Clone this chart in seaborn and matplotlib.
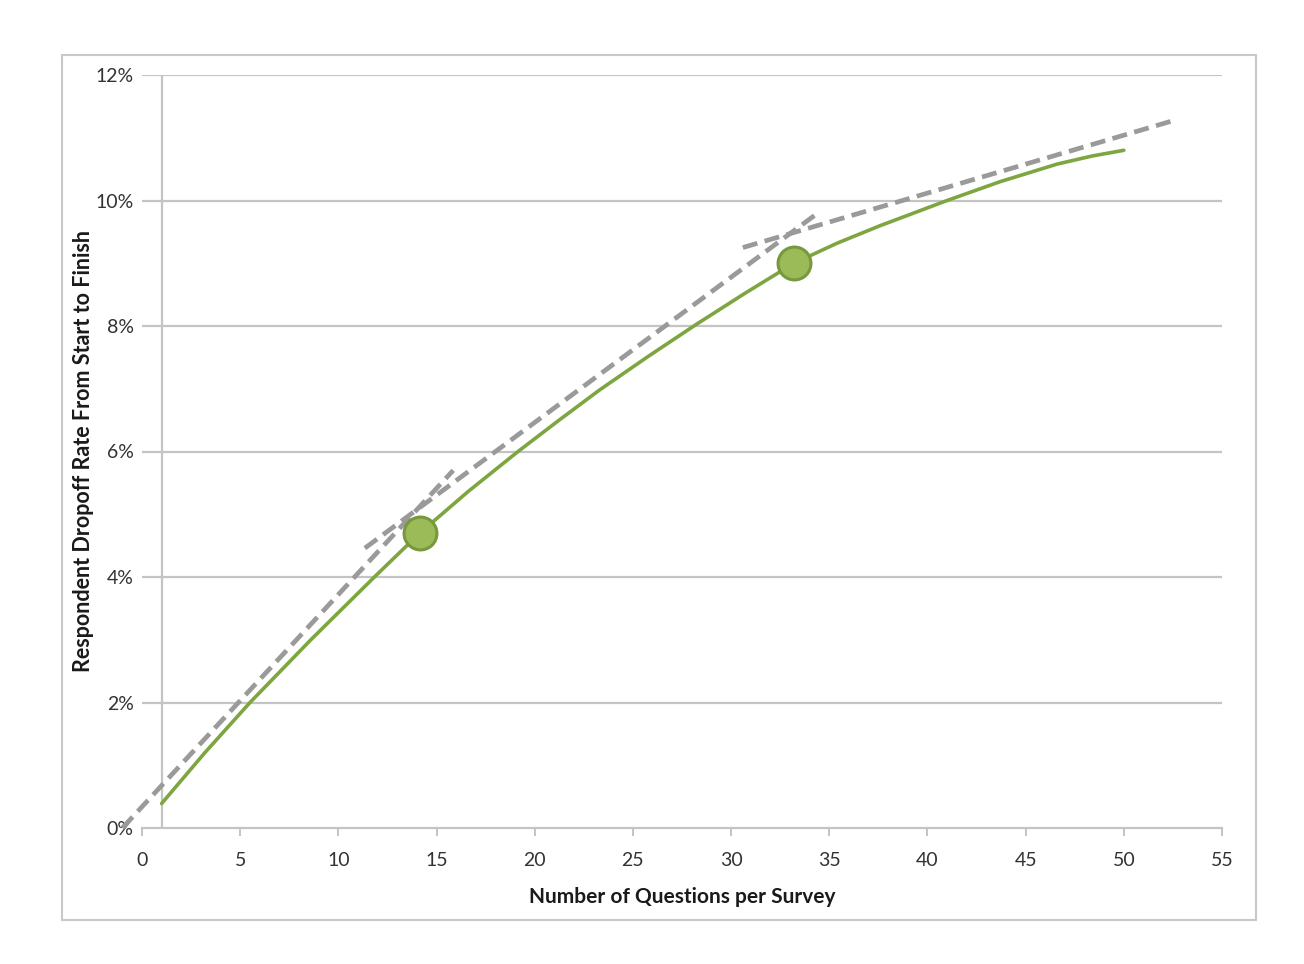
import numpy as np
import pandas as pd
import seaborn as sns
import matplotlib.pyplot as plt
from matplotlib.patches import Rectangle
from matplotlib.ticker import FuncFormatter

# dropoff curve (questions, % dropped)
questions = [1.0, 3.2, 5.5, 8.6, 11.9, 14.15, 16.6, 19.15, 21.2, 23.3, 25.8, 28.2, 30.7, 33.2,
             35.4, 37.6, 41.0, 43.7, 46.6, 48.4, 50.0]
dropoff = [0.39, 1.2, 2.0, 3.0, 4.02, 4.70, 5.36, 6.0, 6.49, 6.98, 7.52, 8.02, 8.52, 9.0,
           9.32, 9.6, 10.0, 10.3, 10.58, 10.71, 10.8]

# highlighted points
point_q = [14.15, 33.2]
point_rate = [4.70, 9.0]

# dashed linear trend segments (start/end)
seg_q = [[-1.0, 15.85], [11.35, 34.5], [30.6, 52.7]]
seg_rate = [[0.0, 5.7], [4.46, 9.82], [9.25, 11.29]]

x_ticks = list(range(0, 60, 5))
y_ticks = [0, 2, 4, 6, 8, 10, 12]

sns.set_style('white')
plt.rcParams['font.family'] = ['Lato', 'DejaVu Sans']

fig = plt.figure(figsize=(13.04, 9.64), dpi=100)
ax = fig.add_axes([142 / 1304, 1 - 828 / 964, (1222 - 142) / 1304, (828 - 75) / 964])

grid_col = '#c4c4c4'
for yt in y_ticks[1:]:
    ax.axhline(yt, color=grid_col, lw=1.6, zorder=0)
ax.axvline(1, color=grid_col, lw=1.6, zorder=0)

curve = pd.DataFrame({'q': questions, 'rate': dropoff})
sns.lineplot(data=curve, x='q', y='rate', ax=ax, color='#7ea640', lw=2.6, zorder=3)

for sq, sr in zip(seg_q, seg_rate):
    sns.lineplot(x=sq, y=sr, ax=ax, color='#9a9a9a', lw=3.4, zorder=4,
                 dashes=False, linestyle=(0, (3.2, 1.6)), clip_on=False)

sns.scatterplot(x=point_q, y=point_rate, ax=ax, s=560, color='#9bbb59',
                edgecolor='#77983c', linewidth=2.2, zorder=5)

ax.set_xlim(0, 55)
ax.set_ylim(0, 12)
ax.set_xticks(x_ticks)
ax.set_yticks(y_ticks)
ax.yaxis.set_major_formatter(FuncFormatter(lambda v, p: f'{v:.0f}%'))

for s in ['top', 'right', 'left']:
    ax.spines[s].set_visible(False)
ax.spines['bottom'].set_color(grid_col)
ax.spines['bottom'].set_linewidth(1.6)

ax.tick_params(axis='x', direction='out', length=6, width=1.4, color=grid_col,
               pad=11, labelsize=14, labelcolor='#333333', bottom=True)
ax.tick_params(axis='y', length=0, pad=6, labelsize=14, labelcolor='#333333')

ax.set_xlabel('Number of Questions per Survey', fontsize=15, fontweight='bold',
              labelpad=13, color='#1a1a1a')
ax.set_ylabel('Respondent Dropoff Rate From Start to Finish', fontsize=15.5, fontweight='bold',
              labelpad=1, color='#1a1a1a')

# chart area border
fig.patches.append(Rectangle((62 / 1304, 1 - 920 / 964), (1256 - 62) / 1304, (920 - 55) / 964,
                             transform=fig.transFigure, fill=False, edgecolor='#c8c8c8', lw=1.5))

fig.savefig('out.png', dpi=100, facecolor='white')
